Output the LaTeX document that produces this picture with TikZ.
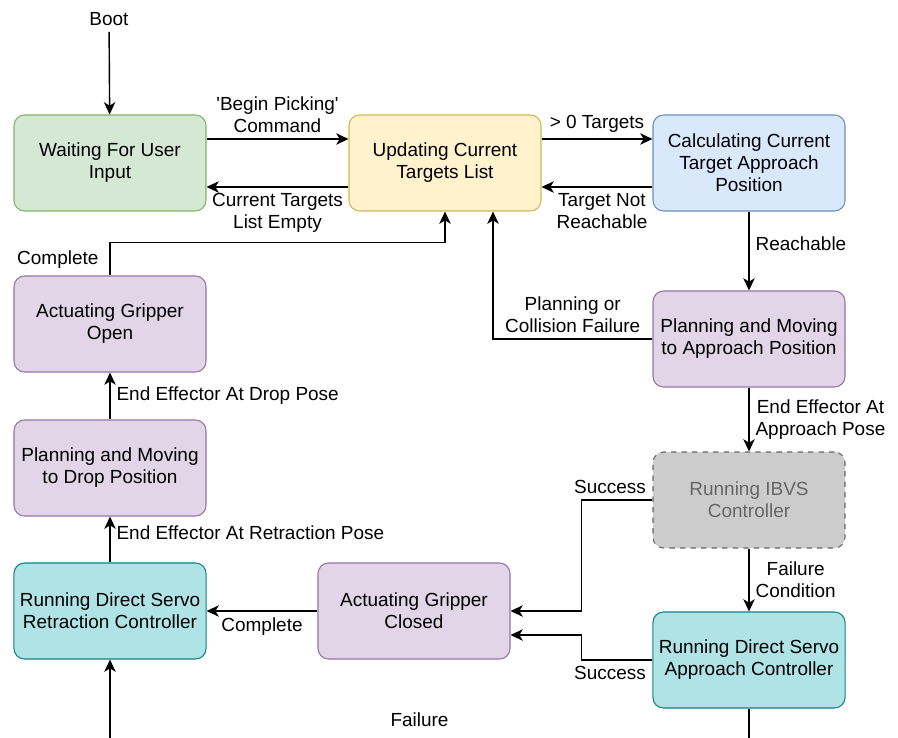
\documentclass[tikz,border=0pt]{standalone}
\usepackage{fontspec}
\setmainfont{Liberation Sans}
\usetikzlibrary{arrows.meta, positioning, calc}
\definecolor{waitfill}{RGB}{213,232,212}
\definecolor{waitline}{RGB}{130,179,102}
\definecolor{listfill}{RGB}{255,242,204}
\definecolor{listline}{RGB}{214,182,86}
\definecolor{calcfill}{RGB}{218,232,252}
\definecolor{calcline}{RGB}{108,142,191}
\definecolor{movefill}{RGB}{225,213,231}
\definecolor{moveline}{RGB}{150,115,166}
\definecolor{ibvsfill}{RGB}{204,204,204}
\definecolor{ibvsline}{RGB}{102,102,102}
\definecolor{servofill}{RGB}{176,227,230}
\definecolor{servoline}{RGB}{14,128,136}

\begin{document}
\begin{tikzpicture}[
    stbox/.style={rectangle, line width=0.6pt, align=center, rounded corners=6pt, minimum width=3.84cm, minimum height=1.92cm, font=\fontsize{10.8}{12.6}\selectfont},
    waitbox/.style={stbox, draw=waitline, fill=waitfill},
    listbox/.style={stbox, draw=listline, fill=listfill},
    calcbox/.style={stbox, draw=calcline, fill=calcfill},
    movebox/.style={stbox, draw=moveline, fill=movefill},
    ibvsbox/.style={stbox, draw=ibvsline, fill=ibvsfill, dashed, text=ibvsline},
    servobox/.style={stbox, draw=servoline, fill=servofill},
    lbl/.style={align=center, font=\fontsize{10.8}{12.6}\selectfont},
    link/.style={line width=0.8pt, -{Stealth[length=7pt, width=6.5pt, inset=2pt]}},
]
    \useasboundingbox (0,0) rectangle (17.96,-14.76);

    % top row
    \node[lbl] (boot) at (2.18,-0.38) {Boot};
    \node[waitbox] (wait) at (2.2,-3.26) {Waiting For User\\Input};
    \node[listbox] (update) at (8.9,-3.26) {Updating Current\\Targets List};
    \node[calcbox] (calc) at (14.98,-3.26) {Calculating Current\\Target Approach\\Position};

    % right column
    \node[movebox] (approach) at (14.98,-6.78) {Planning and Moving\\to Approach Position};
    \node[ibvsbox] (ibvs) at (14.98,-10.0) {Running IBVS\\Controller};
    \node[servobox] (servo) at (14.98,-13.2) {Running Direct Servo\\Approach Controller};

    % middle and left column
    \node[movebox] (closed) at (8.28,-12.22) {Actuating Gripper\\Closed};
    \node[servobox] (retract) at (2.2,-12.22) {Running Direct Servo\\Retraction Controller};
    \node[movebox] (drop) at (2.2,-9.36) {Planning and Moving\\to Drop Position};
    \node[movebox] (open) at (2.2,-6.48) {Actuating Gripper\\Open};

    % transitions
    \draw[link] (boot) -- (wait);
    \draw[link] ([yshift=0.48cm]wait.east) -- ([yshift=0.48cm]update.west)
        node[lbl, midway, above] {\textquotesingle Begin Picking\textquotesingle\\Command};
    \draw[link] ([yshift=-0.48cm]update.west) -- ([yshift=-0.48cm]wait.east)
        node[lbl, midway, below] {Current Targets\\List Empty};
    \draw[link] ([yshift=0.48cm]update.east) -- ([yshift=0.48cm]calc.west)
        node[lbl, midway, above] {> 0 Targets};
    \draw[link] ([yshift=-0.48cm]calc.west) -- ([yshift=-0.48cm]update.east)
        node[lbl, midway, below, xshift=0.1cm] {Target Not\\Reachable};
    \draw[link] (calc) -- (approach) node[lbl, midway, right, yshift=0.15cm] {Reachable};
    \draw[link] (approach.west) -| ([xshift=0.96cm]update.south)
        node[lbl, pos=0.25, above] {Planning or\\Collision Failure};
    \draw[link] (approach) -- (ibvs) node[lbl, midway, right] {End Effector At\\Approach Pose};
    \draw[link] (ibvs) -- (servo) node[lbl, midway, right] {Failure\\Condition};
    \draw[link] (ibvs.west) node[lbl, above left] {Success} -- ++(-1.42,0) |- (closed.east);
    \draw[link] (servo.west) node[lbl, below left] {Success} -- ++(-1.42,0) |- ([yshift=-0.48cm]closed.east);
    \draw[link] (closed) -- (retract) node[lbl, midway, below] {Complete};
    \draw[link] (retract) -- (drop) node[lbl, pos=0.65, right] {End Effector At Retraction Pose};
    \draw[link] (drop) -- (open) node[lbl, midway, right] {End Effector At Drop Pose};
    \draw[link] (open.north) node[lbl, above left, xshift=-0.1cm] {Complete} -- ++(0,0.66) -| (update.south);
    % leaves the page at the bottom edge
    \draw[link] (servo.south) -- ++(0,-0.7) -| (retract.south)
        node[lbl, pos=0.25, above, xshift=-0.2cm, yshift=0.2cm] {Failure};
\end{tikzpicture}
\end{document}
